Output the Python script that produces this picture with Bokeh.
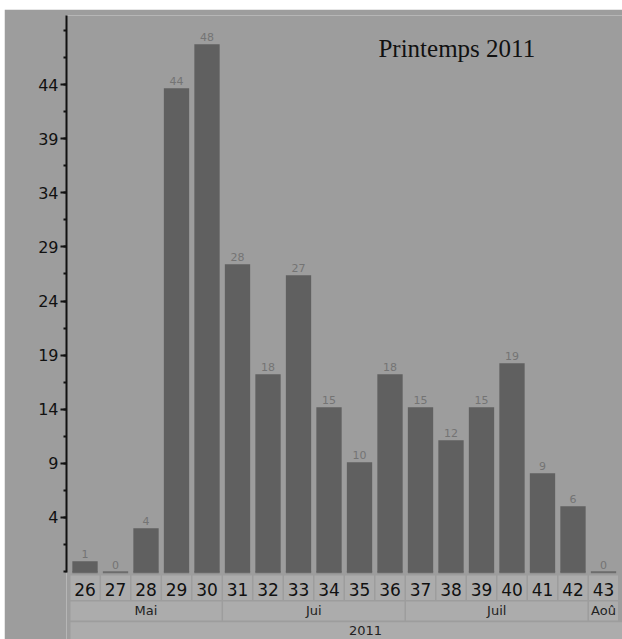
from bokeh.plotting import figure
from bokeh.models import Range1d, LinearAxis, FixedTicker, Label, ColumnDataSource
from bokeh.core.properties import value
from bokeh.embed import file_html
from bokeh.resources import INLINE

# ---- data ----
weeks = [26, 27, 28, 29, 30, 31, 32, 33, 34, 35, 36, 37, 38, 39, 40, 41, 42, 43]
counts = [1, 0, 4, 44, 48, 28, 18, 27, 15, 10, 18, 15, 12, 15, 19, 9, 6, 0]
months = ["Mai", "Jui", "Juil", "Aoû"]
month_weeks = [5, 6, 6, 1]
year_label = "2011"
y_tick_labels = [4, 9, 14, 19, 24, 29, 34, 39, 44]
title_text = "Printemps 2011"

BG = "#9d9d9d"
BOX = "#acacac"
BAR = "#606060"

p = figure(width=618, height=630, output_backend="svg", toolbar_location=None,
           x_range=Range1d(25.393, 43.623), y_range=Range1d(-6.118, 50.61),
           x_axis_location=None, y_axis_location=None,
           min_border_left=62, min_border_right=0, min_border_top=6, min_border_bottom=0,
           background_fill_color=BG, border_fill_color=BG, outline_line_color=None,
           margin=(9, 0, 0, 4))
p.xgrid.visible = False
p.ygrid.visible = False

# y axis on its own scale
p.extra_y_ranges = {"ax": Range1d(-7.31, 50.41)}
ax = LinearAxis(y_range_name="ax")
minor = [-1 + 2.5 * i for i in range(21)]
ax.ticker = FixedTicker(ticks=y_tick_labels, minor_ticks=minor)
ax.bounds = (-1.09, 50.41)
ax.axis_line_width = 2
ax.axis_line_color = "#111111"
ax.major_tick_out = 6
ax.major_tick_in = 0
ax.minor_tick_out = 3
ax.minor_tick_in = 0
ax.major_tick_line_width = 2
ax.minor_tick_line_width = 2
ax.major_tick_line_color = "#111111"
ax.minor_tick_line_color = "#111111"
ax.major_label_text_font = "DejaVu Sans"
ax.major_label_text_font_size = "16px"
ax.major_label_text_color = "#111111"
ax.major_label_standoff = 2
p.add_layout(ax, "left")

src = ColumnDataSource(dict(
    x=weeks, top=counts, lab=[str(c) for c in counts], wl=[str(w) for w in weeks],
    left=[w - 0.475 for w in weeks], right=[w + 0.475 for w in weeks]))

# zero markers and bars
p.rect(x="x", y=0, width=0.83, height=2, height_units="screen", source=src,
       fill_color="#6c6c6c", line_color=None)
p.vbar(x="x", top="top", bottom=0, width=0.83, source=src, fill_color=BAR, line_color=None)
p.text(x="x", y="top", text="lab", source=src, y_offset=-7.5, text_align="center",
       text_baseline="middle", text_font=value("DejaVu Sans"), text_font_size="11px",
       text_color="#747474")

# week row
p.quad(left="left", right="right", top=-0.3, bottom=-2.527, source=src,
       fill_color=BOX, line_color=None)
p.text(x="x", y=-1.564, text="wl", source=src, text_align="center",
       text_baseline="middle", text_font=value("DejaVu Sans"), text_font_size="17px",
       text_color="#111111")

# month row
m_left, m_right, m_mid = [], [], []
i = 0
for n in month_weeks:
    a, b = weeks[i], weeks[i + n - 1]
    m_left.append(a - 0.475)
    m_right.append(b + 0.475)
    m_mid.append((a + b) / 2)
    i += n
msrc = ColumnDataSource(dict(left=m_left, right=m_right, mid=m_mid, name=months))
p.quad(left="left", right="right", top=-2.664, bottom=-4.39, source=msrc,
       fill_color=BOX, line_color=None)
p.text(x="mid", y=-3.48, text="name", source=msrc, text_align="center",
       text_baseline="middle", text_font=value("DejaVu Sans"), text_font_size="13px",
       text_color="#222222")

# year row (extends past the right edge)
y_left = weeks[0] - 0.475
y_right = 44.87
p.quad(left=[y_left], right=[y_right], top=-4.545, bottom=-6.3,
       fill_color=BOX, line_color=None)
p.text(x=[(y_left + y_right) / 2], y=[-5.3], text=[year_label], text_align="center",
       text_baseline="middle", text_font=value("DejaVu Sans"), text_font_size="13px",
       text_color="#222222")

p.add_layout(Label(x=35.62, y=47.65, text=title_text, text_font="Liberation Serif",
                   text_font_size="25px", text_color="#111111",
                   text_align="left", text_baseline="middle"))

open("out.html", "w").write(file_html(p, INLINE))
